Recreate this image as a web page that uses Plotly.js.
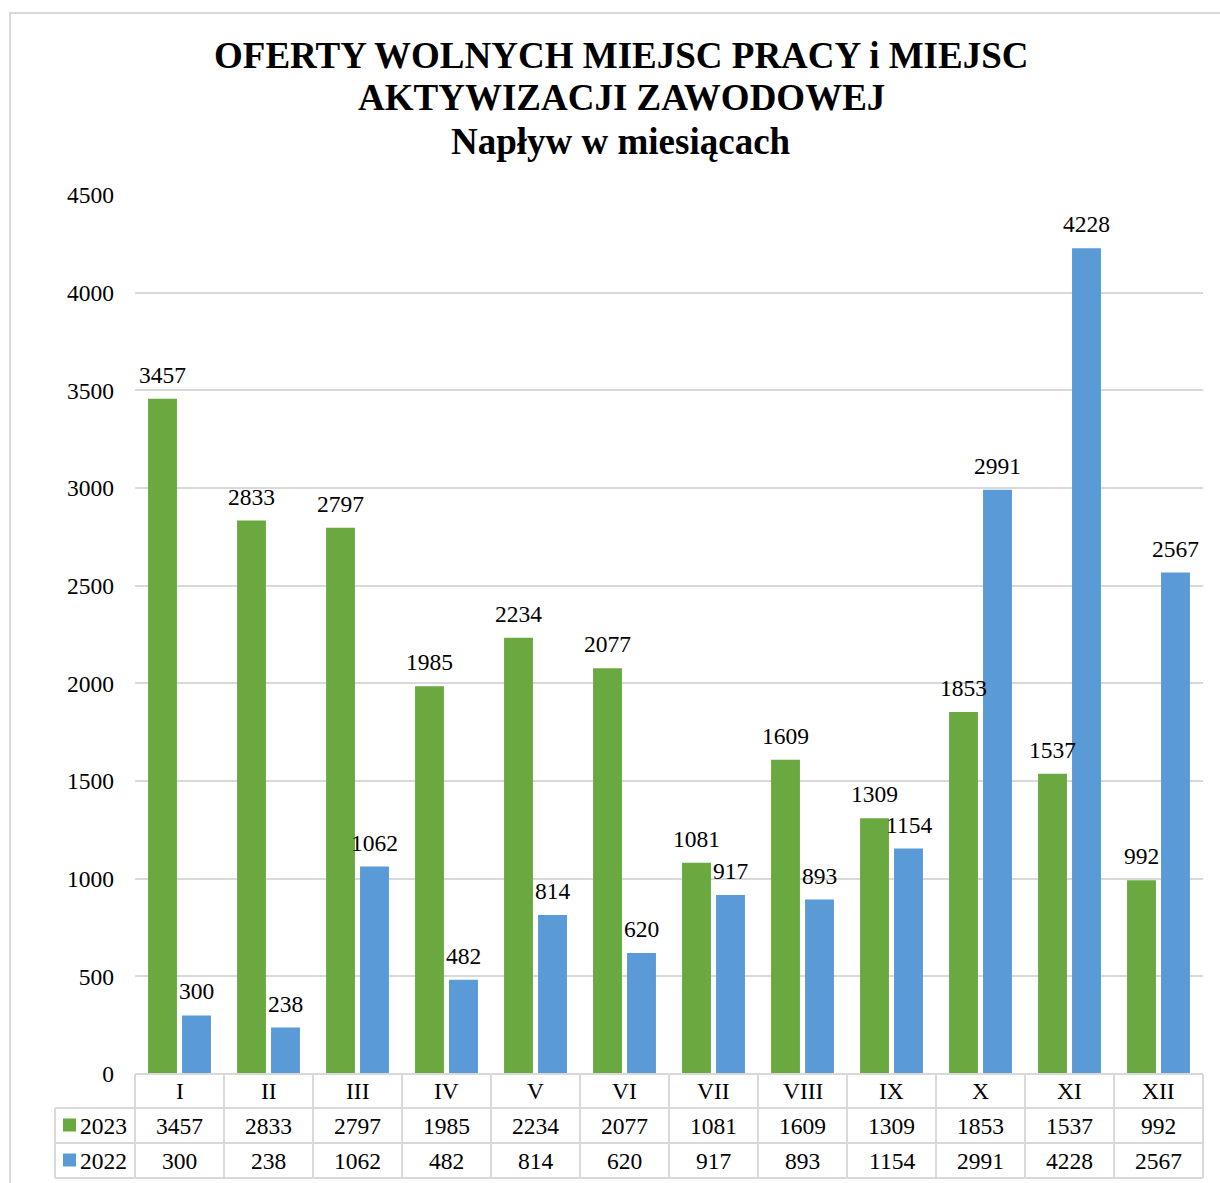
<!DOCTYPE html>
<html><head><meta charset="utf-8">
<script src="https://cdn.plot.ly/plotly-3.0.1.min.js"></script>
<style>body{margin:0;background:#fff}#c{width:1220px;height:1183px}</style>
</head><body><div id="c"></div>
<script>
const months = ["I","II","III","IV","V","VI","VII","VIII","IX","X","XI","XII"];
const values2023 = [3457,2833,2797,1985,2234,2077,1081,1609,1309,1853,1537,992];
const values2022 = [300,238,1062,482,814,620,917,893,1154,2991,4228,2567];
const seriesNames = ["2023","2022"];
const titleLines = ["OFERTY WOLNYCH MIEJSC PRACY i MIEJSC","AKTYWIZACJI ZAWODOWEJ","Napływ w miesiącach"];
const colors = ["#6aa93f","#5a9ad6"];

const W=1220,H=1183, L=135, R=1203, T=195, B=1074;
const ph = B-T;
const py = px => (B-px)/ph;           // pixel -> paper y
const pxX = px => (px-L)/(R-L);       // pixel -> paper x
const font = "Liberation Serif, Times New Roman, serif";
const gridC = "#d9d9d9";
const fs = 23.5;

const traces = [
  {type:"bar", name:seriesNames[0], x:months, y:values2023, marker:{color:colors[0]}, textposition:"none"},
  {type:"bar", name:seriesNames[1], x:months, y:values2022, marker:{color:colors[1]}, textposition:"none"}
];

const shapes = [];
const ann = [];
// title lines
const titleY = [55,98,142];
titleLines.forEach((t,i)=>{
  ann.push({xref:"paper", yref:"paper", x:pxX(621), y:py(titleY[i]), xanchor:"center", yanchor:"middle",
    text:"<b>"+t+"</b>", showarrow:false, font:{family:font,size:37,color:"#000"}});
});
// data labels
[values2023, values2022].forEach((vals,s)=>{
  vals.forEach((v,k)=>{
    ann.push({xref:"x", yref:"y", x:months[k], y:v, xshift:s===0?-17:17, yshift:24, xanchor:"center", yanchor:"middle",
      text:String(v), showarrow:false, font:{family:font,size:fs,color:"#000"}});
  });
});
// outer frame
shapes.push({type:"rect", xref:"paper", yref:"paper", x0:pxX(10), x1:pxX(1240), y0:py(1200), y1:py(13), line:{color:gridC,width:2}});
// table rows
const rows = [1074,1108,1143,1178];
shapes.push({type:"line", xref:"paper", yref:"paper", x0:0, x1:1, y0:py(rows[0]), y1:py(rows[0]), line:{color:gridC,width:2}});
for (let i=1;i<rows.length;i++){
  shapes.push({type:"line", xref:"paper", yref:"paper", x0:pxX(55), x1:1, y0:py(rows[i]), y1:py(rows[i]), line:{color:gridC,width:2}});
}
for (let k=0;k<=months.length;k++){
  shapes.push({type:"line", xref:"paper", yref:"paper", x0:k/months.length, x1:k/months.length, y0:py(rows[0]), y1:py(rows[3]), line:{color:gridC,width:2}});
}
shapes.push({type:"line", xref:"paper", yref:"paper", x0:pxX(55), x1:pxX(55), y0:py(rows[1]), y1:py(rows[3]), line:{color:gridC,width:2}});

const rowMid = i => py((rows[i]+rows[i+1])/2);
months.forEach((m,k)=>{
  ann.push({xref:"x", yref:"paper", x:m, y:rowMid(0), yanchor:"middle", xanchor:"center", text:m, showarrow:false, font:{family:font,size:fs,color:"#000"}});
  ann.push({xref:"x", yref:"paper", x:m, y:rowMid(1), yanchor:"middle", xanchor:"center", text:String(values2023[k]), showarrow:false, font:{family:font,size:fs,color:"#000"}});
  ann.push({xref:"x", yref:"paper", x:m, y:rowMid(2), yanchor:"middle", xanchor:"center", text:String(values2022[k]), showarrow:false, font:{family:font,size:fs,color:"#000"}});
});
[0,1].forEach(s=>{
  const yc = (rows[s+1]+rows[s+2])/2;
  shapes.push({type:"rect", xref:"paper", yref:"paper", x0:pxX(63), x1:pxX(76), y0:py(yc+6), y1:py(yc-7), fillcolor:colors[s], line:{width:0}});
  ann.push({xref:"paper", yref:"paper", x:pxX(78), y:py(yc), xanchor:"left", yanchor:"middle", text:seriesNames[s], showarrow:false, font:{family:font,size:fs,color:"#000"}});
});

const layout = {
  width:W, height:H,
  margin:{l:L, r:W-R, t:T, b:H-B},
  paper_bgcolor:"#fff", plot_bgcolor:"#fff",
  showlegend:false,
  barmode:"group", bargap:0.236, bargroupgap:0.15,
  xaxis:{type:"category", showticklabels:false, showgrid:false, zeroline:false, showline:false, ticks:""},
  yaxis:{range:[0,4500], dtick:500, tick0:0, showgrid:true, gridcolor:gridC, gridwidth:1.5, zeroline:false,
         showline:false, ticks:"", ticklabelstandoff:20,
         tickfont:{family:font,size:fs,color:"#000"}},
  shapes:shapes, annotations:ann
};
Plotly.newPlot("c", traces, layout, {displayModeBar:false});
</script></body></html>
